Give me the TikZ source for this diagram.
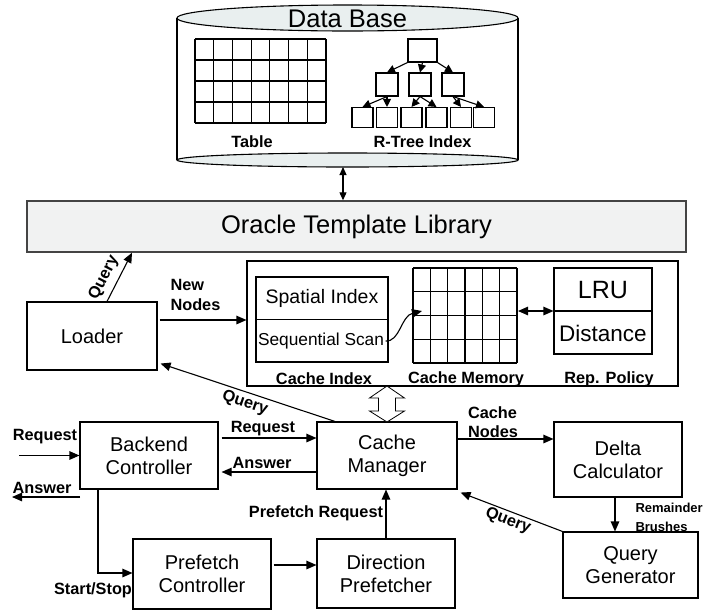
\documentclass[tikz,border=0pt]{standalone}
\usepackage{fontspec}
\setmainfont{Liberation Sans}
\usetikzlibrary{arrows.meta,calc}

\definecolor{dbgrey}{HTML}{E9EFEF}
\definecolor{libgrey}{HTML}{F1F2F2}
\definecolor{libline}{HTML}{444444}

\begin{document}
\begin{tikzpicture}[x=1pt,y=-1pt,
  line width=1.1pt,
  tip/.style={-{Triangle[length=10pt,width=8.5pt]}},
  dtip/.style={{Triangle[length=10pt,width=8.5pt]}-{Triangle[length=10pt,width=8.5pt]}},
  ttip/.style={-{Triangle[length=8pt,width=8pt]}},
  box/.style={draw, line width=1.1pt, inner sep=0pt, align=center,
    font=\fontsize{20}{23}\selectfont},
  tnode/.style={draw, line width=1.1pt, minimum width=21pt, minimum height=20pt, inner sep=0pt},
  lbl/.style={font=\bfseries\fontsize{16.3}{19.5}\selectfont, inner sep=0pt, align=left},
  small/.style={font=\bfseries\fontsize{13}{19}\selectfont, inner sep=0pt, align=left},
  big/.style={font=\fontsize{25.5}{28}\selectfont, inner sep=0pt},
  gridline/.style={line width=1.1pt}
]
\useasboundingbox (0,0) rectangle (705,611);

% ---------- database cylinder ----------
\draw (177,18) -- (177,160) (518,18) -- (518,160);
\draw[fill=dbgrey] (347.5,160) ellipse [x radius=170.5pt, y radius=7pt];
\draw[fill=dbgrey] (347.5,18) ellipse [x radius=170.5pt, y radius=13pt];
\node[big] (dbtitle) at (347.5,18.5) {Data Base};

% table
\foreach \i in {0,...,7}
  \draw[gridline] ({195+\i*131/7},39) -- ({195+\i*131/7},123);
\foreach \j in {0,...,4}
  \draw[gridline] (195,{39+\j*21}) -- (326,{39+\j*21});
\node[lbl] (tablelbl) at (252,142) {Table};

% R-tree index
\node[tnode, minimum width=29pt, minimum height=23pt] (r0) at (422.5,50.5) {};
\node[tnode, minimum width=22pt, minimum height=23pt] (ra) at (387,84.5) {};
\node[tnode, minimum width=22pt, minimum height=23pt] (rb) at (420,84.5) {};
\node[tnode, minimum width=22pt, minimum height=23pt] (rc) at (453,84.5) {};
\foreach \n/\x in {l1/362.5, l2/387, l3/411.5, l4/436.5, l5/461, l6/484}
  \node[tnode] (\n) at (\x,117.5) {};
\draw[ttip] (r0.south west) -- (ra.north);
\draw[ttip] (r0.south) -- (rb.north);
\draw[ttip] (r0.south east) -- (rc.north);
\draw[ttip] (ra.south) -- (l1.north);
\draw[ttip] (ra.south) -- (l2.north);
\draw[ttip] (rb.south) -- (l3.north);
\draw[ttip] (rb.south) -- (l4.north);
\draw[ttip] (rc.south) -- (l5.north);
\draw[ttip] (rc.south) -- (l6.north);
\node[lbl] (rtreelbl) at (422.5,142) {R-Tree Index};

% ---------- Oracle Template Library ----------
\node[draw=libline, fill=libgrey, line width=1.4pt, minimum width=659pt, minimum height=51pt,
  inner sep=0pt, font=\fontsize{25.5}{28}\selectfont] (otl) at (356.5,226.5) {Oracle Template Library};
\coordinate (dbb) at (343,167);
\draw[{Triangle[length=8pt,width=7pt]}-{Triangle[length=8pt,width=7pt]}] (dbb) -- (dbb |- otl.north);

% ---------- loader ----------
\node[box, minimum width=130pt, minimum height=68pt] (loader) at (92,336) {Loader};
\coordinate (lqfoot) at ([xshift=15pt]loader.north);
\coordinate (lqtop) at ([xshift=40pt]loader.north);
\draw[tip] (lqfoot) -- (lqtop |- otl.south);
\node[lbl, rotate=63] (qlbl1) at (104,278) {Query};

% ---------- cache ----------
\node[draw, line width=1.1pt, minimum width=431pt, minimum height=125pt, inner sep=0pt] (cache) at (462.5,323.5) {};

% cache index
\node[draw, minimum width=132pt, minimum height=85pt, inner sep=0pt] (cidx) at (322,319.5) {};
\draw (cidx.west) -- (cidx.east);
\node[font=\fontsize{19.5}{22}\selectfont, inner sep=1pt] (spatial) at (322,298.5) {Spatial Index};
\node[font=\fontsize{17.3}{20}\selectfont, inner sep=1pt] (seq) at (321,341) {Sequential Scan};
\node[lbl] (cidxlbl) at (324,379) {Cache Index};

% cache memory
\foreach \i in {0,...,6}
  \draw[gridline] ({413+\i*104/6},268) -- ({413+\i*104/6},363);
\foreach \j in {0,...,4}
  \draw[gridline] (413,{268+\j*95/4}) -- (517,{268+\j*95/4});
\coordinate (memin) at (422,311);
\coordinate (meme) at (518,311);
\node[lbl] (memlbl) at (466,379) {Cache Memory};
\draw[tip] (seq.east) .. controls (400,342) and (401,316) .. (memin);

% replacement policy
\node[draw, minimum width=98pt, minimum height=86pt, inner sep=0pt] (rep) at (603,311) {};
\draw (rep.west) -- (rep.east);
\node[font=\fontsize{25}{28}\selectfont, inner sep=0pt] (lru) at (603,290) {LRU};
\node[font=\fontsize{22.5}{25}\selectfont, inner sep=0pt] (dist) at (603,333) {Distance};
\node[lbl] (replbl) at (609,379) {Rep. Policy};
\draw[dtip] (meme) -- (rep.west);

% loader -> cache
\draw[tip] ([yshift=16pt,xshift=2pt]loader.east) -- (cache.west |- 0,320);
\node[lbl, anchor=west] (newnodes) at (170,295) {New\\Nodes};

% ---------- lower blocks ----------
\node[box, minimum width=138pt, minimum height=67pt] (bc) at (149,455.5) {Backend\\Controller};
\node[box, minimum width=140pt, minimum height=67pt] (cm) at (387,455.5) {Cache\\Manager};
\node[box, minimum width=128pt, minimum height=75pt] (dc) at (618,459.5) {Delta\\Calculator};
\node[box, minimum width=135pt, minimum height=66pt] (qg) at (630.5,565) {Query\\Generator};
\node[box, minimum width=138pt, minimum height=70pt] (pc) at (202,574) {Prefetch\\Controller};
\node[box, minimum width=138pt, minimum height=69pt] (dp) at (386,573.5) {Direction\\Prefetcher};

% hollow double arrow between cache and cache manager
\draw[fill=white, line width=0.8pt]
  (387,386) -- (369.5,398) -- (378.5,398) -- (378.5,411) -- (369.5,411) -- (387,422)
  -- (404.5,411) -- (395.5,411) -- (395.5,398) -- (404.5,398) -- cycle;

% cache manager -> loader
\draw[tip] ([xshift=-52pt]cm.north) -- ([xshift=3pt,yshift=7pt]loader.south east);
\node[lbl, rotate=-18.6] (qlbl2) at (245,403) {Query};

% external request / answer
\coordinate (reqin) at (19,455.5);
\draw[tip] (reqin) -- (bc.west);
\node[lbl] (reqlbl) at (45,437) {Request};
\coordinate (ansfrom) at (80,497);
\coordinate (ansto) at (12,497);
\draw[tip] (ansfrom) -- (ansto);
\node[lbl] (anslbl) at (42,488) {Answer};

% backend <-> cache manager
\draw[tip] ([yshift=17.5pt,xshift=3pt]bc.east) -- (cm.west |- 0,438);
\node[lbl] (reqlbl2) at (263,429) {Request};
\draw[tip] ([yshift=-16.5pt]cm.west) -- ([xshift=3pt]bc.east |- 0,472);
\node[lbl] (anslbl2) at (262,463) {Answer};

% cache manager -> delta calculator
\draw[tip] ([yshift=16.5pt]cm.east) -- (dc.west |- 0,439);
\node[lbl] (cnlbl) at (493,422) {Cache\\Nodes};

% delta calculator -> query generator
\draw[tip] ([xshift=-3pt]dc.south) -- ([xshift=-3pt]dc.south |- qg.north);
\node[small] (rblbl) at (635,517.5) [anchor=west] {Remainder\\Brushes};

% query generator -> cache manager
\draw[tip] (qg.north west) -- ([xshift=3pt,yshift=-3pt]cm.south east);
\node[lbl, rotate=-21] (qlbl3) at (508,521) {Query};

% direction prefetcher -> cache manager
\draw[tip] (dp.north) -- (dp.north |- cm.south);
\node[lbl] (pflbl) at (316,513) {Prefetch Request};

% backend -> prefetch controller
\draw[tip] ([xshift=-51pt]bc.south) |- ([yshift=1pt]pc.west);
\node[lbl] (sslbl) at (93,590) {Start/Stop};

% prefetch controller -> direction prefetcher
\draw[tip] ([yshift=9pt,xshift=2pt]pc.east) -- (dp.west |- 0,565);
\end{tikzpicture}
\end{document}
